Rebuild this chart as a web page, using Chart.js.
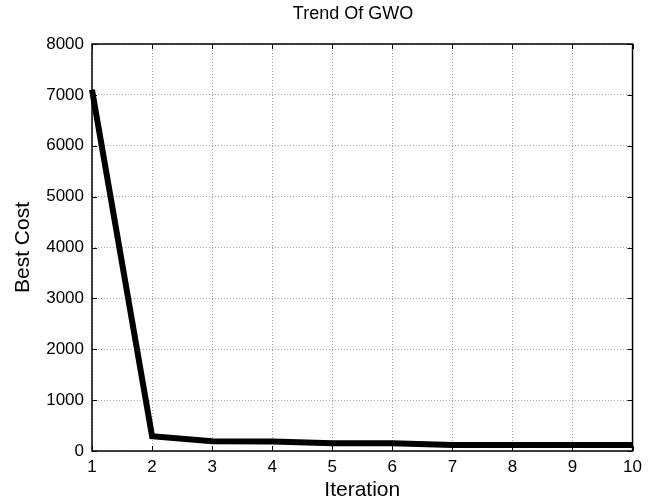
<!DOCTYPE html>
<html>
<head>
<meta charset="utf-8">
<script src="https://cdn.jsdelivr.net/npm/chart.js@4/dist/chart.umd.min.js"></script>
<style>
  html, body { margin: 0; padding: 0; background: #fff; }
  #wrap { width: 648px; height: 501px; }
</style>
</head>
<body>
<div id="wrap"><canvas id="gwoChart" width="648" height="501"></canvas></div>
<script>
'use strict';

const iterations = [1, 2, 3, 4, 5, 6, 7, 8, 9, 10];
const bestCost = [7100, 290, 190, 185, 150, 150, 120, 120, 120, 120];
const yTicks = [0, 1000, 2000, 3000, 4000, 5000, 6000, 7000, 8000];
const chartTitle = 'Trend Of GWO';

const fontFamily = 'Arial, "Liberation Sans", Helvetica, sans-serif';

// MATLAB style box with inward tick marks, plus the title
const boxPlugin = {
    id: 'box',
    afterDraw(chart) {
        const { ctx, chartArea: a, scales } = chart;
        ctx.save();
        ctx.strokeStyle = '#000';
        ctx.lineWidth = 1;
        ctx.beginPath();
        iterations.forEach(v => {
            const x = Math.round(scales.x.getPixelForValue(v)) + 0.5;
            ctx.moveTo(x, a.bottom); ctx.lineTo(x, a.bottom - 5);
            ctx.moveTo(x, a.top); ctx.lineTo(x, a.top + 5);
        });
        yTicks.forEach(v => {
            const y = Math.round(scales.y.getPixelForValue(v)) + 0.5;
            ctx.moveTo(a.left, y); ctx.lineTo(a.left + 5, y);
            ctx.moveTo(a.right, y); ctx.lineTo(a.right - 5, y);
        });
        ctx.stroke();
        ctx.lineWidth = 1.5;
        ctx.strokeRect(a.left, a.top, a.right - a.left, a.bottom - a.top);

        ctx.fillStyle = '#000';
        ctx.font = '18px ' + fontFamily;
        ctx.textAlign = 'center';
        ctx.textBaseline = 'middle';
        ctx.fillText(chartTitle, 353, 14);
        ctx.restore();
    }
};

const ctx = document.getElementById('gwoChart').getContext('2d');
const chart = new Chart(ctx, {
    type: 'line',
    data: {
        datasets: [{
            label: 'Best Cost',
            data: iterations.map((it, i) => ({ x: it, y: bestCost[i] })),
            borderColor: '#000',
            borderWidth: 6,
            pointRadius: 0,
            tension: 0,
            fill: false,
            clip: false
        }]
    },
    options: {
        responsive: false,
        animation: false,
        layout: { padding: { left: 0, right: 11, top: 44, bottom: 0 } },
        plugins: {
            legend: { display: false },
            tooltip: { enabled: false },
            title: { display: false }
        },
        scales: {
            x: {
                type: 'linear',
                min: 1,
                max: 10,
                afterBuildTicks: s => { s.ticks = iterations.map(v => ({ value: v })); },
                afterFit: s => { s.height = 50; },
                ticks: {
                    color: '#000',
                    font: { family: fontFamily, size: 17 },
                    padding: 6,
                    maxRotation: 0,
                    callback: v => String(v)
                },
                grid: {
                    color: '#a0a0a0',
                    lineWidth: 1,
                    drawTicks: false
                },
                border: { display: false, dash: [1, 2] },
                title: {
                    display: true,
                    text: 'Iteration',
                    color: '#000',
                    font: { family: fontFamily, size: 21, lineHeight: 1 },
                    padding: { top: 0.5, bottom: 0 }
                }
            },
            y: {
                min: 0,
                max: 8000,
                afterBuildTicks: s => { s.ticks = yTicks.map(v => ({ value: v })); },
                afterFit: s => { s.width = 92; },
                ticks: {
                    color: '#000',
                    font: { family: fontFamily, size: 17 },
                    padding: 8,
                    callback: v => String(v)
                },
                grid: {
                    color: '#a0a0a0',
                    lineWidth: 1,
                    drawTicks: false
                },
                border: { display: false, dash: [1, 2] },
                title: {
                    display: true,
                    text: 'Best Cost',
                    color: '#000',
                    font: { family: fontFamily, size: 21, lineHeight: 1 },
                    padding: { top: 12.5, bottom: 0 }
                }
            }
        }
    },
    plugins: [boxPlugin]
});
</script>
</body>
</html>
